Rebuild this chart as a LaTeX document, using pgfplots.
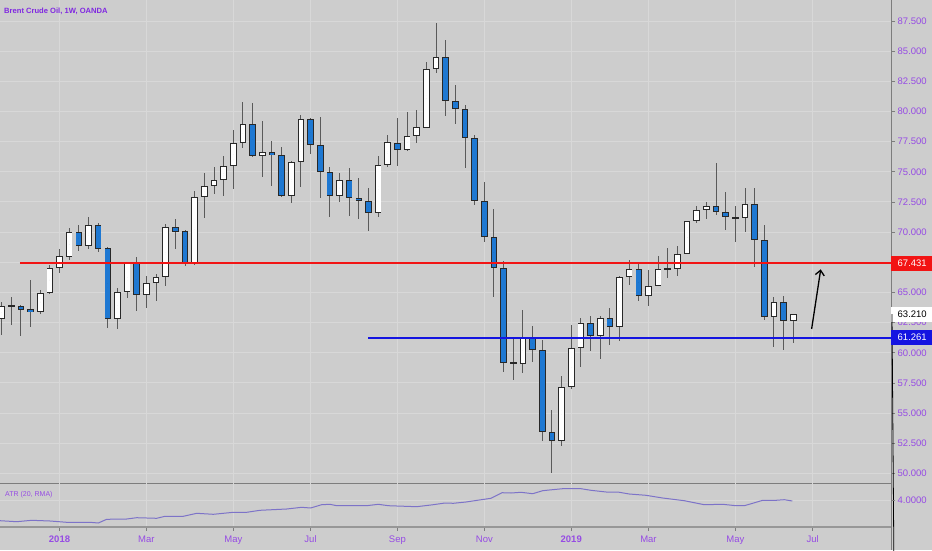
\documentclass[border=0pt]{standalone}
\usepackage{fontspec}
\setmainfont{Liberation Sans}
\usepackage{pgfplots}
\usepackage{pgfplotstable}
\usetikzlibrary{arrows.meta}
\pgfplotsset{compat=1.18}
\definecolor{bg}{RGB}{205,205,205}
\definecolor{gridcol}{RGB}{216,216,216}
\definecolor{axisgray}{RGB}{125,125,125}
\definecolor{tvpurple}{RGB}{150,75,228}
\definecolor{titlepurple}{RGB}{128,40,225}
\definecolor{bordercol}{RGB}{40,40,40}
\definecolor{wickcol}{RGB}{90,90,90}
\definecolor{candleblue}{RGB}{30,120,210}
\definecolor{lvlred}{RGB}{242,20,20}
\definecolor{lvlblue}{RGB}{20,20,225}
\definecolor{atrcol}{RGB}{125,115,200}

% weekly candles: x = week index, open, high, low, close
\pgfplotstableread{
x o h l c
0 62.78 64.21 61.48 63.88
1 63.85 64.65 62.31 63.95
4 63.38 65.21 63.22 64.98
5 64.93 67.28 64.90 67.01
6 67.01 68.60 66.60 68.03
7 67.97 70.32 67.70 70.04
9 68.88 71.28 68.58 70.60
12 62.80 65.35 61.98 65.02
13 65.02 67.55 64.52 67.42
15 64.79 66.37 63.69 65.76
16 65.76 66.51 64.30 66.26
17 66.26 70.68 65.54 70.45
20 67.47 73.44 67.30 72.89
21 72.89 74.88 71.15 73.83
22 73.83 75.43 73.16 74.32
23 74.32 76.31 73.02 75.48
24 75.48 78.47 73.58 77.36
25 77.36 80.81 76.95 78.96
27 76.34 79.21 74.60 76.62
30 73.02 75.90 72.44 75.79
31 75.79 79.71 73.72 79.35
35 73.00 74.88 72.53 74.32
39 71.56 76.34 71.28 75.57
40 75.57 78.05 75.38 77.45
42 76.81 79.98 76.75 77.97
43 77.97 80.12 77.37 78.69
44 78.66 84.08 78.60 83.52
45 83.52 87.36 83.22 84.54
54 59.05 63.55 58.30 61.29
58 52.72 58.08 52.28 57.14
59 57.14 62.31 56.98 60.38
60 60.38 62.86 58.80 62.50
62 61.40 63.05 59.46 62.86
64 62.12 66.40 61.00 66.31
65 66.31 67.69 65.62 66.92
67 64.74 66.86 63.91 65.54
68 65.54 68.03 65.50 66.95
69 66.90 68.66 66.18 67.00
70 66.95 68.88 66.37 68.17
71 68.17 70.95 68.15 70.93
72 70.93 72.17 70.79 71.84
73 71.84 72.53 71.09 72.19
77 71.15 73.64 70.04 72.31
80 63.00 64.65 60.51 64.24
82 62.66 63.21 60.79 63.21
}\uptab

\pgfplotstableread{
x o h l c
2 63.91 64.00 61.42 63.55
3 63.61 66.04 62.17 63.38
8 70.04 70.60 68.46 68.88
10 70.60 70.73 68.38 68.60
11 68.66 68.80 62.03 62.80
14 67.42 67.97 63.49 64.79
18 70.45 71.07 68.60 70.04
19 70.10 70.15 67.20 67.47
26 78.96 80.73 76.20 76.34
28 76.64 77.58 73.83 76.37
29 76.40 77.08 72.90 73.02
32 79.35 79.45 76.48 77.20
33 77.20 79.57 72.81 74.96
34 74.96 75.43 71.28 73.02
36 74.32 75.29 71.37 72.86
37 72.86 74.51 71.09 72.58
38 72.58 73.68 70.12 71.56
41 77.42 79.49 75.48 76.81
46 84.54 85.93 79.65 80.87
47 80.87 82.20 78.96 80.21
48 80.21 80.54 75.29 77.78
49 77.78 78.05 72.25 72.58
50 72.58 74.18 69.21 69.63
51 69.63 71.92 64.65 67.01
52 67.01 67.64 58.44 59.18
53 59.20 61.34 57.75 59.10
55 61.29 62.22 59.27 60.24
56 60.24 61.06 52.72 53.41
57 53.44 55.26 50.02 52.72
61 62.50 63.05 60.18 61.40
63 62.86 63.69 60.65 62.12
66 66.92 67.42 64.32 64.74
74 72.19 75.71 71.42 71.70
75 71.70 73.30 70.18 71.23
76 71.25 72.17 69.21 71.18
78 72.31 73.64 67.14 69.35
79 69.35 70.60 62.72 63.00
81 64.24 64.73 60.24 62.66
}\downtab

\pgfplotsset{
  nomark/.style={forget plot, only marks, mark=*, mark size=0pt,
    mark options={draw=none, fill=none}},
  wick/.style={nomark,
    error bars/.cd, y dir=both, y explicit, error mark=none,
    error bar style={draw=wickcol, line width=1pt, line cap=butt}},
  bodyout/.style={nomark,
    error bars/.cd, y dir=both, y explicit, error mark=none,
    error bar style={draw=bordercol, line width=6.6pt, line cap=butt}},
  bodyin/.style={nomark,
    error bars/.cd, y dir=both, y explicit, error mark=none,
    error bar style={draw=#1, line width=4.8pt, line cap=butt}},
}

\begin{document}
\begin{tikzpicture}
\useasboundingbox (0,0) rectangle (932pt,550pt);
\fill[bg] (0,0) rectangle (932pt,550pt);

\begin{axis}[
  at={(0pt,67pt)}, anchor=south west,
  scale only axis, width=891pt, height=483pt,
  xmin=-0.166, xmax=92.12, ymin=49.21, ymax=89.24,
  axis x line*=bottom, axis y line*=right,
  axis line style={draw=axisgray, line width=1pt},
  xtick={6,15,24,32,41,50,59,67,76,84}, xticklabel={\phantom{0}},
  x tick style={draw=none},
  ytick={50,52.5,...,87.5},
  y tick style={draw=axisgray, line width=0.8pt},
  tick align=outside, major tick length=4pt,
  grid=major, grid style={draw=gridcol, line width=1pt},
  scaled y ticks=false,
  yticklabel style={font=\fontsize{9.5}{10}\selectfont, text=tvpurple,
    anchor=west, inner sep=0pt, xshift=2.5pt,
    /pgf/number format/fixed, /pgf/number format/fixed zerofill,
    /pgf/number format/precision=3, /pgf/number format/assume math mode=true},
  clip=false,
]
% wicks
\addplot[wick] table[x=x, y expr={(\thisrow{h}+\thisrow{l})/2}, y error expr={(\thisrow{h}-\thisrow{l})/2}] {\uptab};
\addplot[wick] table[x=x, y expr={(\thisrow{h}+\thisrow{l})/2}, y error expr={(\thisrow{h}-\thisrow{l})/2}] {\downtab};
% bodies: border
\addplot[bodyout] table[x=x, y expr={(\thisrow{o}+\thisrow{c})/2}, y error expr={max(abs(\thisrow{c}-\thisrow{o})/2,0.05)}] {\uptab};
\addplot[bodyout] table[x=x, y expr={(\thisrow{o}+\thisrow{c})/2}, y error expr={max(abs(\thisrow{c}-\thisrow{o})/2,0.05)}] {\downtab};
% bodies: fill
\addplot[bodyin=white] table[x=x, y expr={(\thisrow{o}+\thisrow{c})/2}, y error expr={max(abs(\thisrow{c}-\thisrow{o})/2-0.075,0)}] {\uptab};
\addplot[bodyin=candleblue] table[x=x, y expr={(\thisrow{o}+\thisrow{c})/2}, y error expr={max(abs(\thisrow{c}-\thisrow{o})/2-0.075,0)}] {\downtab};
% horizontal levels
\addplot[lvlred, line width=2pt, forget plot] coordinates {(1.9,67.431) (92.12,67.431)};
\addplot[lvlblue, line width=2pt, forget plot] coordinates {(37.95,61.261) (92.12,61.261)};
% arrow annotation
\draw[-{Straight Barb[length=5pt,width=9pt]}, line width=1.3pt, black] (axis cs:83.9,61.98) -- (axis cs:84.84,66.92);
% price labels
\fill[white] ([yshift=-7.5pt]axis cs:92.12,63.21) rectangle ++(41pt,15pt);
\node[anchor=west, inner sep=0pt, font=\fontsize{9.5}{10}\selectfont, text=black] at ([xshift=6.5pt]axis cs:92.12,63.21) {63.210};
\draw[black, line width=0.8pt] ([xshift=1pt]axis cs:92.12,63.21) -- ++(3pt,0);
\fill[lvlred] ([yshift=-7.5pt]axis cs:92.12,67.431) rectangle ++(41pt,15pt);
\node[anchor=west, inner sep=0pt, font=\fontsize{9.5}{10}\selectfont, text=white] at ([xshift=6.5pt]axis cs:92.12,67.431) {67.431};
\fill[lvlblue] ([yshift=-7.5pt]axis cs:92.12,61.261) rectangle ++(41pt,15pt);
\node[anchor=west, inner sep=0pt, font=\fontsize{9.5}{10}\selectfont, text=white] at ([xshift=6.5pt]axis cs:92.12,61.261) {61.261};
\end{axis}

\begin{axis}[
  at={(0pt,23.3pt)}, anchor=south west,
  scale only axis, width=891pt, height=43.7pt,
  xmin=-0.166, xmax=92.12, ymin=2.70, ymax=4.885,
  axis x line*=bottom, axis y line*=right,
  axis line style={draw=axisgray, line width=1pt},
  x axis line style={line width=2pt, draw=axisgray!80},
  xtick={6,15,24,32,41,50,59,67,76,84},
  xticklabels={\textbf{2018},Mar,May,Jul,Sep,Nov,\textbf{2019},Mar,May,Jul},
  xticklabel style={font=\fontsize{9.5}{10}\selectfont, text=tvpurple, inner sep=0pt, yshift=-5pt},
  ytick={4},
  tick align=outside, major tick length=4pt,
  x tick style={draw=axisgray, line width=0.8pt},
  y tick style={draw=axisgray, line width=0.8pt},
  grid=major, grid style={draw=gridcol, line width=1pt},
  yticklabel style={font=\fontsize{9.5}{10}\selectfont, text=tvpurple,
    anchor=west, inner sep=0pt, xshift=2.5pt,
    /pgf/number format/fixed, /pgf/number format/fixed zerofill,
    /pgf/number format/precision=4, /pgf/number format/assume math mode=true},
  clip=false,
]
\addplot[atrcol, line width=1pt, mark=none] coordinates {
(-0.17,3.00) (1.56,2.95) (3.12,3.02) (5.01,2.985) (6.74,2.92) (9.16,2.92) (10.02,2.885)
(10.88,3.07) (12.96,3.085) (13.99,3.15) (16.06,3.12) (16.92,3.22) (18.82,3.22)
(20.21,3.37) (21.93,3.32) (24.0,3.42) (25.39,3.42) (26.76,3.52) (29.53,3.585)
(31.08,3.67) (32.01,3.635) (33.15,3.80) (34.01,3.82) (34.71,3.75) (37.81,3.75)
(39.02,3.82) (40.05,3.75) (42.99,3.70) (44.71,3.80) (45.92,3.885) (46.78,3.87)
(48.10,3.935) (49.48,4.035) (50.69,4.12) (51.83,4.40) (52.76,4.385) (53.80,4.42)
(55.01,4.35) (56.04,4.50) (56.73,4.535) (58.12,4.60) (60.01,4.60) (61.04,4.52)
(62.62,4.435) (63.81,4.435) (65.01,4.335) (66.74,4.27) (68.47,4.135) (70.71,4.00)
(72.78,3.80) (74.69,3.82) (76.06,3.75) (76.92,3.75) (77.79,3.87) (78.83,4.02)
(80.21,4.02) (81.07,4.05) (81.9,3.985)
};
\end{axis}

\draw[axisgray, line width=1pt] (891pt,0) -- (891pt,23.3pt);
\node[anchor=west, inner sep=0pt, font=\bfseries\fontsize{7.6}{9}\selectfont, text=titlepurple] at (4pt,539pt) {Brent Crude Oil, 1W, OANDA};
\node[anchor=west, inner sep=0pt, font=\fontsize{7}{8}\selectfont, text=tvpurple] at (5pt,55pt) {ATR (20, RMA)};
\end{tikzpicture}
\end{document}
